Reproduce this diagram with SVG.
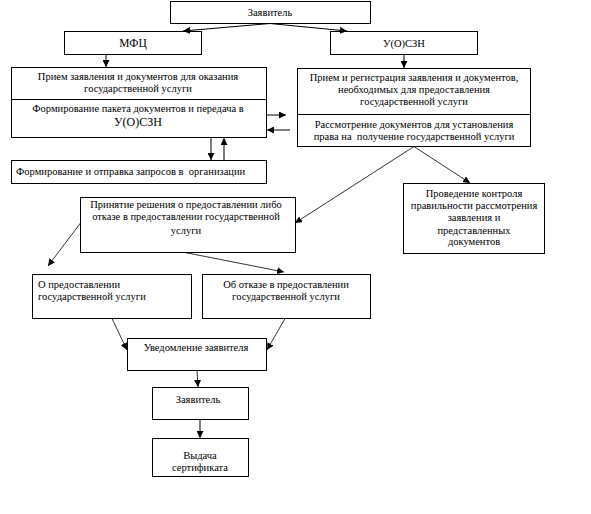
<svg xmlns="http://www.w3.org/2000/svg" width="591" height="514" viewBox="0 0 591 514">
<defs>
<marker id="ah" viewBox="0 0 10 10" refX="10" refY="5" markerWidth="7" markerHeight="7" markerUnits="userSpaceOnUse" orient="auto">
<path d="M0,0 L10,5 L0,10 z" fill="#000"/>
</marker>
<style>
.b{fill:#fff;stroke:#000;stroke-width:1}
.t{font-family:"Liberation Serif","Times New Roman",serif;font-size:10.5px;fill:#000}
.c{text-anchor:middle}
.l{stroke:#000;stroke-width:1;fill:none;marker-end:url(#ah)}
.d{stroke:#000;stroke-width:0.8;fill:none;marker-end:url(#ah)}
</style>
</defs>
<rect width="591" height="514" fill="#fff"/>
<g id="zayavitel-top"><rect class="b" x="170.5" y="1.5" width="200" height="22"/><text class="t c" x="270" y="16">Заявитель</text></g>
<g id="mfc"><rect class="b" x="64.5" y="31.5" width="137" height="23"/><text class="t c" x="133" y="47" style="font-size:11.5px">МФЦ</text></g>
<g id="uoszn"><rect class="b" x="330.5" y="31.5" width="147" height="23"/><text class="t c" x="404" y="47">У(О)СЗН</text></g>
<g id="mfc-priem"><rect class="b" x="11.5" y="67.5" width="255" height="70"/><line x1="11.5" y1="99.5" x2="266.5" y2="99.5" stroke="#000"/>
<text class="t c" x="138" y="80">Прием заявления и документов для оказания</text>
<text class="t c" x="138" y="92">государственной услуги</text>
<text class="t c" x="138" y="112">Формирование пакета документов и передача в</text>
<text class="t c" x="138" y="126" style="font-size:12px">У(О)СЗН</text></g>
<g id="uoszn-priem"><rect class="b" x="297.5" y="68.5" width="233" height="78"/><line x1="297.5" y1="114.5" x2="530.5" y2="114.5" stroke="#000"/>
<text class="t c" x="414" y="81">Прием и регистрация заявления и документов,</text>
<text class="t c" x="414" y="93">необходимых для предоставления</text>
<text class="t c" x="414" y="105">государственной услуги</text>
<text class="t c" x="414" y="128">Рассмотрение документов для установления</text>
<text class="t c" x="414" y="140" xml:space="preserve">права на  получение государственной услуги</text></g>
<g id="zaprosy"><rect class="b" x="11.5" y="160.5" width="255" height="23"/><text class="t" x="16" y="175" xml:space="preserve">Формирование и отправка запросов в  организации</text></g>
<g id="reshenie"><rect class="b" x="80.5" y="197.5" width="215" height="55"/>
<text class="t c" x="186" y="208">Принятие решения о предоставлении либо</text>
<text class="t c" x="186" y="220">отказе в предоставлении государственной</text>
<text class="t c" x="186" y="234">услуги</text></g>
<g id="kontrol"><rect class="b" x="403.5" y="183.5" width="141" height="70"/>
<text class="t c" x="474" y="197">Проведение контроля</text>
<text class="t c" x="474" y="209">правильности рассмотрения</text>
<text class="t c" x="474" y="221">заявления и</text>
<text class="t c" x="474" y="234">представленных</text>
<text class="t c" x="474" y="245">документов</text></g>
<g id="predost"><rect class="b" x="32.5" y="274.5" width="159" height="44"/>
<text class="t" x="38" y="288">О предоставлении</text>
<text class="t" x="38" y="300">государственной услуги</text></g>
<g id="otkaz"><rect class="b" x="202.5" y="274.5" width="168" height="44"/>
<text class="t c" x="286" y="288">Об отказе в предоставлении</text>
<text class="t c" x="286" y="300">государственной услуги</text></g>
<g id="uvedomlenie"><rect class="b" x="127.5" y="338.5" width="139" height="32"/><text class="t c" x="196" y="351">Уведомление заявителя</text></g>
<g id="zayavitel"><rect class="b" x="152.5" y="387.5" width="96" height="32"/><text class="t c" x="198" y="403">Заявитель</text></g>
<g id="vydacha"><rect class="b" x="152.5" y="438.5" width="96" height="38"/>
<text class="t c" x="200" y="459">Выдача</text>
<text class="t c" x="200" y="471">сертификата</text></g>
<g id="connectors">
<line class="l" x1="270" y1="23.5" x2="183" y2="31"/>
<line class="l" x1="270" y1="23.5" x2="347" y2="31"/>
<line class="l" x1="106" y1="54.5" x2="106" y2="67"/>
<line class="l" x1="404" y1="54.5" x2="404" y2="68"/>
<line class="l" x1="266.5" y1="115" x2="286" y2="115"/>
<line class="l" x1="290" y1="130" x2="267" y2="130"/>
<line class="l" x1="211" y1="137.5" x2="211" y2="160"/>
<line class="l" x1="224" y1="160.5" x2="224" y2="138"/>
<line class="d" x1="414" y1="146.5" x2="470" y2="183"/>
<line class="d" x1="414" y1="146.5" x2="295" y2="223"/>
<line class="d" x1="80.5" y1="223" x2="48" y2="266"/>
<line class="d" x1="185" y1="252.5" x2="284" y2="272"/>
<line class="d" x1="112" y1="318.5" x2="127" y2="350"/>
<line class="d" x1="285" y1="318.5" x2="267" y2="350"/>
<line class="d" x1="197" y1="370.5" x2="198" y2="387"/>
<line class="l" x1="200" y1="419.5" x2="200" y2="438"/>
</g>
</svg>
